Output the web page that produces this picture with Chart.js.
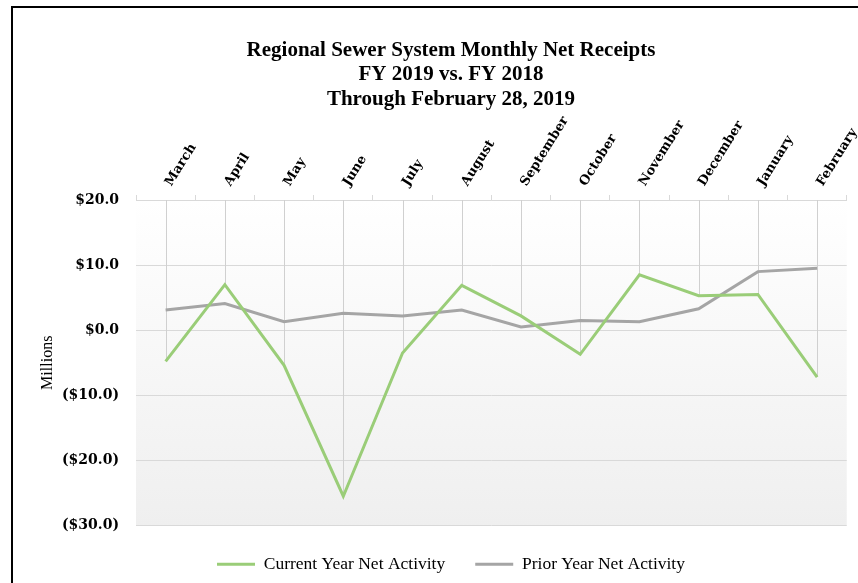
<!DOCTYPE html>
<html>
<head>
<meta charset="utf-8">
<script src="https://cdn.jsdelivr.net/npm/chart.js@4/dist/chart.umd.min.js"></script>
<style>
  html, body { margin: 0; padding: 0; background: #fff; overflow: hidden; }
  #frame {
    position: absolute; left: 11px; top: 6px; width: 900px; height: 600px;
    border-left: 2px solid #000; border-top: 2px solid #000;
  }
  #wrap { position: absolute; left: 0; top: 0; width: 858px; height: 583px; }
</style>
</head>
<body>
<div id="frame"></div>
<div id="wrap"><canvas id="sewer-chart"></canvas></div>
<script>
// months on the category axis (fiscal year starts in March)
const months = ["March", "April", "May", "June", "July", "August", "September",
  "October", "November", "December", "January", "February"];

// net activity, $ millions
const currentYear = [-4.8, 7.0, -5.4, -25.5, -3.5, 6.9, 2.2, -3.7, 8.5, 5.3, 5.5, -7.2];
const priorYear = [3.1, 4.1, 1.3, 2.6, 2.2, 3.1, 0.5, 1.5, 1.3, 3.3, 9.0, 9.5];

// value axis
const yMin = -30;
const yMax = 20;
const yStep = 10;

const titleLines = [
  "Regional Sewer System Monthly Net Receipts",
  "FY 2019 vs. FY 2018",
  "Through February 28, 2019",
];

const green = "#9ACD78";
const gray = "#A5A5A5";
const gridColor = "#D9D9D9";

const formatMoney = (v) => {
  if (v < 0) return "($" + Math.abs(v).toFixed(1) + ")";
  return "$" + v.toFixed(1);
};

// soft white-to-gray fill behind the plot
const plotBackground = {
  id: "plotBackground",
  beforeDraw(chart) {
    const { ctx, chartArea } = chart;
    const grad = ctx.createLinearGradient(0, chartArea.top, 0, chartArea.bottom);
    grad.addColorStop(0, "#ffffff");
    grad.addColorStop(1, "#efefef");
    ctx.save();
    ctx.fillStyle = grad;
    ctx.fillRect(chartArea.left, chartArea.top, chartArea.right - chartArea.left, chartArea.bottom - chartArea.top);
    ctx.restore();
  },
};

// drop lines from the top category axis to each current-year point
const dropLines = {
  id: "dropLines",
  beforeDatasetsDraw(chart) {
    const { ctx, chartArea } = chart;
    const meta = chart.getDatasetMeta(0);
    ctx.save();
    ctx.strokeStyle = "#D0D0D0";
    ctx.lineWidth = 1;
    meta.data.forEach((pt) => {
      const x = Math.round(pt.x) + 0.5;
      ctx.beginPath();
      ctx.moveTo(x, chartArea.top);
      ctx.lineTo(x, pt.y);
      ctx.stroke();
    });
    ctx.restore();
  },
};

Chart.defaults.color = "#000";

const sewerCanvas = document.getElementById("sewer-chart");

let sewerChart = new Chart(sewerCanvas, {
  type: "line",
  data: {
    labels: months,
    datasets: [
      {
        label: "Current Year Net Activity",
        data: currentYear,
        borderColor: green,
        backgroundColor: green,
        borderWidth: 3,
        pointRadius: 0,
        tension: 0,
      },
      {
        label: "Prior Year Net Activity",
        data: priorYear,
        borderColor: gray,
        backgroundColor: gray,
        borderWidth: 3,
        pointRadius: 0,
        tension: 0,
      },
    ],
  },
  options: {
    responsive: true,
    maintainAspectRatio: false,
    animation: false,
    layout: {
      padding: { left: 54, right: 10, top: 0, bottom: 0 },
    },
    scales: {
      x: {
        position: "top",
        offset: true,
        grid: {
          offset: true,
          drawOnChartArea: false,
          drawTicks: true,
          tickLength: 5,
          color: gridColor,
        },
        border: { display: true, color: gridColor },
        ticks: {
          minRotation: 58,
          maxRotation: 58,
          padding: 6,
          labelOffset: 16,
          font: { family: "DejaVu Serif", weight: "bold", size: 13 },
        },
        afterFit: (scale) => {
          scale.height = 88.5;
        },
      },
      y: {
        min: yMin,
        max: yMax,
        ticks: {
          stepSize: yStep,
          padding: 17,
          callback: (v) => formatMoney(v),
          font: { family: "DejaVu Serif", weight: "bold", size: 14 },
        },
        grid: { color: gridColor, drawTicks: false },
        border: { display: false },
        title: {
          display: true,
          text: "Millions",
          padding: { top: -16, bottom: 0 },
          font: { family: "Liberation Serif", size: 16 },
        },
        afterFit: (scale) => {
          scale.width = 82;
        },
      },
    },
    plugins: {
      title: {
        display: true,
        text: titleLines,
        padding: { top: 38, bottom: 0 },
        font: { family: "Liberation Serif", weight: "bold", size: 21, lineHeight: 1.167 },
      },
      legend: {
        position: "bottom",
        labels: {
          boxWidth: 38,
          boxHeight: 0,
          padding: 30,
          font: { family: "Liberation Serif", size: 17.5 },
        },
      },
      tooltip: { enabled: false },
    },
  },
  plugins: [plotBackground, dropLines],
});
</script>
</body>
</html>
